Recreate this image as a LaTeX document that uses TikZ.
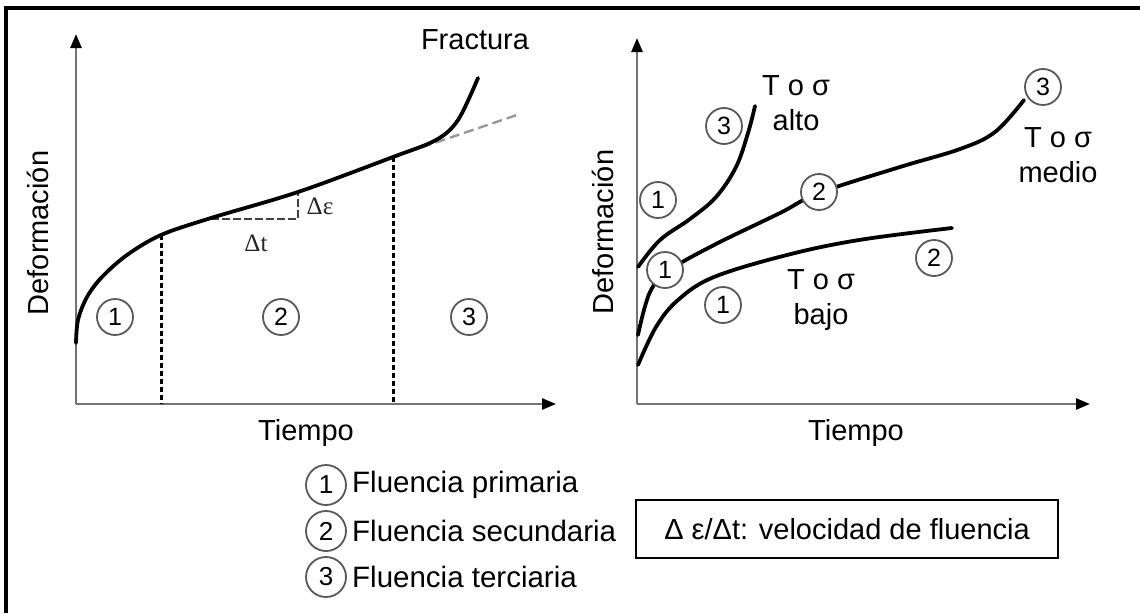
\documentclass[tikz,border=0pt]{standalone}
\usepackage{fontspec}
\setmainfont{Liberation Sans}
\newfontfamily\serifx{Liberation Serif}
\usetikzlibrary{arrows.meta}
\tikzset{
  axis/.style={line width=2.6pt, draw=black!55, -{Triangle[length=14pt,width=11pt,color=black]}},
  curve/.style={line width=3.8pt, black, line cap=round},
  vdash/.style={line width=3pt, black, dash pattern=on 5pt off 3pt},
  slope/.style={line width=2pt, black!75, dash pattern=on 8pt off 3pt},
  ext/.style={line width=2.4pt, black!40, dash pattern=on 10pt off 5pt},
  num/.style={circle, draw=black!65, fill=white, line width=1.8pt, minimum size=36pt, inner sep=0pt, font=\fontsize{25}{25}\selectfont},
  bignum/.style={num, minimum size=40pt, font=\fontsize{26}{26}\selectfont},
  lbl/.style={font=\fontsize{29}{35}\selectfont, align=center, inner sep=0pt},
  ylbl/.style={font=\fontsize{29}{30}\selectfont, rotate=90, inner sep=0pt},
  leg/.style={font=\fontsize{29.5}{30}\selectfont, anchor=west, inner sep=0pt},
  greek/.style={font=\serifx\fontsize{25}{25}\selectfont, inner sep=0pt, text=black!85},
}
\begin{document}
\begin{tikzpicture}[x=1pt,y=-1pt]
\useasboundingbox (0,0) rectangle (1140,613);
% outer frame (top and left edges)
\draw[line width=3.5pt, black] (1140,8) -- (6,8) -- (6,613);

% ---------- left plot ----------
\coordinate (LO) at (76,404);
\coordinate (LY) at (76,34);
\coordinate (LX) at (556,404);
\draw[axis] (LO) -- (LY);
\draw[axis] (LO) -- (LX);
\node[ylbl] (ldef) at (38,233) {Deformación};
\node[lbl] (ltiem) at (306,433) {Tiempo};
\node[lbl] (frac) at (475,40) {Fractura};

\coordinate (P1) at (161,235);
\coordinate (P2) at (393,157);
\coordinate (P1b) at (161,404);
\coordinate (P2b) at (393,404);
\coordinate (E) at (517,115);
\draw[ext] (P2) -- (E);
\draw[vdash] (P1) -- (P1b);
\draw[vdash] (P2) -- (P2b);
\coordinate (SA) at (211,219);
\coordinate (SB) at (298,219);
\coordinate (SC) at (298,192);
\draw[slope] (SA) -- (SB) -- (SC);
\node[greek] (de) at (320,206) {Δε};
\node[greek] (dt) at (256,243) {Δt};

\draw[curve] plot[smooth, tension=0.55] coordinates {(76,343) (78,320) (87,297) (102,277) (127,255) (161,235) (211,218) (298,192) (393,157) (436,140) (458,120) (478,78)};

\node[num] (l1) at (115,317) {1};
\node[num] (l2) at (281,317) {2};
\node[num] (l3) at (469,317) {3};

% ---------- right plot ----------
\coordinate (RO) at (637,404);
\coordinate (RY) at (637,38);
\coordinate (RX) at (1090,404);
\draw[axis] (RO) -- (RY);
\draw[axis] (RO) -- (RX);
\node[ylbl] (rdef) at (603,232) {Deformación};
\node[lbl] (rtiem) at (856,433) {Tiempo};

\draw[curve] plot[smooth, tension=0.6] coordinates {(638,267) (660,240) (690,219) (716,197) (736,167) (748,133) (755,106)};
\draw[curve] plot[smooth, tension=0.6] coordinates {(638,335) (650,292) (670,270) (714,245) (780,213) (819,193) (900,167) (960,149) (995,132) (1024,100)};
\draw[curve] plot[smooth, tension=0.6] coordinates {(638,365) (656,327) (678,300) (714,277) (787,255) (859,240) (952,228)};

\node[num] (a1) at (658,200) {1};
\node[num] (a3) at (724,126) {3};
\node[num] (m1) at (665,270) {1};
\node[num] (m2) at (819,192) {2};
\node[num] (m3) at (1043,87) {3};
\node[num] (b1) at (723,305) {1};
\node[num] (b2) at (934,258) {2};

\node[lbl] (talto) at (796,103) {T o σ\\alto};
\node[lbl] (tmedio) at (1058,155) {T o σ\\medio};
\node[lbl] (tbajo) at (821,300) {T o σ\\bajo};

% ---------- legend ----------
\node[bignum] (g1) at (326,485) {1};
\node[bignum] (g2) at (326,531) {2};
\node[bignum] (g3) at (326,577) {3};
\node[leg] (t1) at (352,485) {Fluencia primaria};
\node[leg] (t2) at (352,531) {Fluencia secundaria};
\node[leg] (t3) at (352,577) {Fluencia terciaria};
\node[draw=black, line width=2.4pt, minimum width=422pt, minimum height=58pt, font=\fontsize{29}{30}\selectfont, inner sep=0pt] (box) at (847,529) {Δ ε/Δt: velocidad de fluencia};
\end{tikzpicture}
\end{document}
